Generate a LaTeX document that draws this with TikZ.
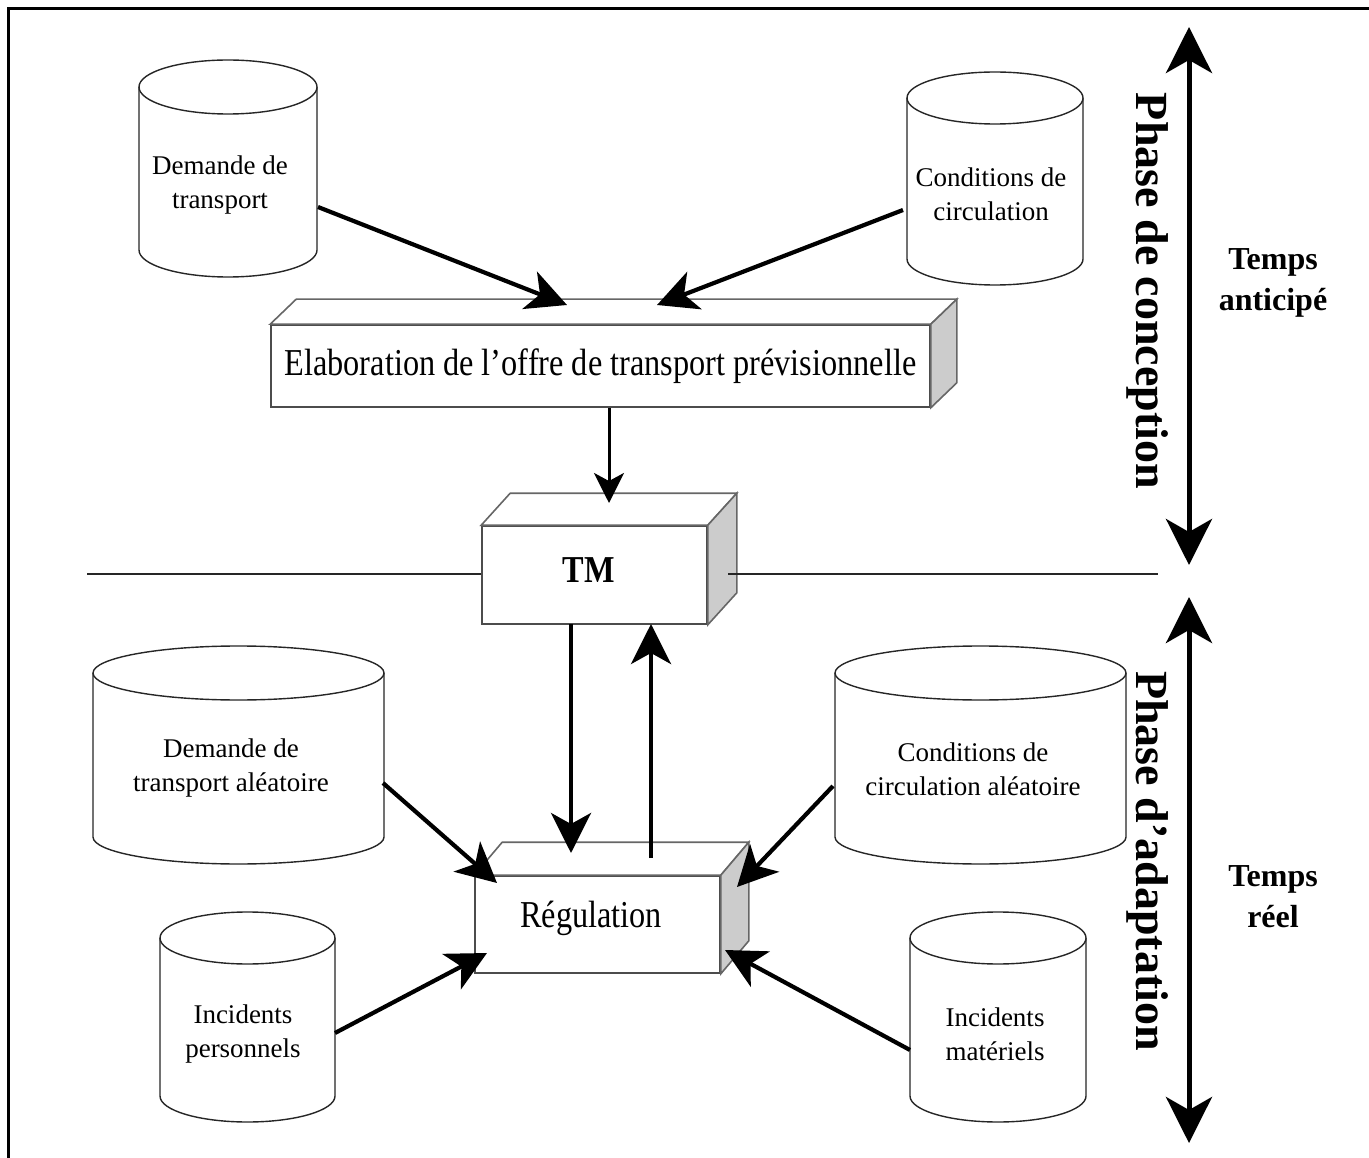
\documentclass[tikz,border=0pt]{standalone}
\usepackage{fontspec}
\setmainfont{Liberation Serif}
\newfontfamily\boxfont[FakeStretch=0.85]{Liberation Serif}
\usetikzlibrary{arrows.meta}
\newcommand\drawcyl[5]{%
  \fill[white] (#1-#4,#2) -- (#1-#4,#3) arc[start angle=180,end angle=360,x radius=#4pt,y radius=#5pt] -- (#1+#4,#2) -- cycle;
  \draw[cylline] (#1-#4,#2) -- (#1-#4,#3) arc[start angle=180,end angle=360,x radius=#4pt,y radius=#5pt] -- (#1+#4,#2);
  \draw[cylline, fill=white] (#1,#2) ellipse[x radius=#4pt, y radius=#5pt];
}
\newcommand\deepbox[3]{%
  \draw[boxedge, fill=white] (#1.north west) -- ++(#2,#3) -- ([shift={(#2,#3)}]#1.north east) -- (#1.north east) -- cycle;
  \draw[sideface] (#1.north east) -- ++(#2,#3) -- ([shift={(#2,#3)}]#1.south east) -- (#1.south east) -- cycle;
}
\begin{document}
\begin{tikzpicture}[x=1pt,y=-1pt,
  cylline/.style={line width=1.4pt, draw=black!85},
  cyltext/.style={font=\fontsize{27}{34}\selectfont, align=center, inner sep=0pt},
  front/.style={draw=black!70, line width=1.6pt, fill=white, inner sep=0pt, font=\boxfont\fontsize{38}{44}\selectfont},
  boxedge/.style={draw=black!60, line width=1.6pt},
  sideface/.style={fill=black!20, draw=black!60, line width=1.6pt},
  thinline/.style={line width=1.5pt, draw=black!85},
  bigarrow/.style={line width=4.2pt, -{Stealth[length=40pt,width=40pt,inset=11pt]}},
  midarrow/.style={line width=3pt, -{Stealth[length=30pt,width=30pt,inset=8pt]}},
  timearrow/.style={line width=5pt, {Stealth[length=46pt,width=46pt,inset=13pt]}-{Stealth[length=46pt,width=46pt,inset=13pt]}},
  phasetext/.style={font=\bfseries\fontsize{46}{50}\selectfont, rotate=-90, inner sep=0pt},
  timetext/.style={font=\bfseries\fontsize{32}{41}\selectfont, align=center, inner sep=0pt}
]
\useasboundingbox (0,0) rectangle (1369,1158);
% frame
\draw[line width=3pt] (8,1158) -- (8,9) -- (1369,9);

% cylinders
\drawcyl{228}{87}{250}{89}{27}
\node[cyltext] (dt) at (220,185) {Demande de\\transport};
\drawcyl{995}{98}{259}{88}{26}
\node[cyltext] (cc) at (991,194) {Conditions de\\circulation};
\drawcyl{238.5}{673}{837}{145.5}{27}
\node[cyltext] (dta) at (231,768) {Demande de\\transport aléatoire};
\drawcyl{980.5}{673}{837}{145.5}{27}
\node[cyltext] (cca) at (973,769) {Conditions de\\circulation aléatoire};
\drawcyl{247.5}{938}{1096}{87.5}{26}
\node[cyltext] (ip) at (243,1034) {Incidents\\personnels};
\drawcyl{998}{938}{1096}{88}{26}
\node[cyltext] (im) at (995,1034) {Incidents\\matériels};

% boxes
\node[front, minimum width=659pt, minimum height=82pt] (elab) at (600.5,366) {Elaboration de l’offre de transport prévisionnelle};
\deepbox{elab}{26}{-25}

\coordinate (hl1) at (87,574);
\coordinate (hl2) at (728,574);
\coordinate (hl3) at (1158,574);

\node[front, minimum width=225pt, minimum height=98pt] (tm) at (594.5,575) {};
\deepbox{tm}{29}{-32}
\node[font=\boxfont\bfseries\fontsize{38}{44}\selectfont, inner sep=0pt] (tmt) at (589,570) {TM};
\draw[thinline] (hl1) -- (hl1 -| tm.west);
\draw[thinline] (hl2) -- (hl3);

\node[front, minimum width=245pt, minimum height=97pt] (reg) at (597.5,924.5) {};
\deepbox{reg}{28}{-33}
\node[font=\boxfont\fontsize{38}{44}\selectfont, inner sep=0pt] (regt) at (591,918) {Régulation};

% connector end points
\coordinate (dt-out) at (318,207);
\coordinate (elab-in1) at (567,305);
\coordinate (cc-out) at (903,210);
\coordinate (elab-in2) at (657,305);
\coordinate (elab-out) at (609,408);
\coordinate (tm-in) at (609,503);
\coordinate (tm-out) at (571,624);
\coordinate (reg-in) at (571,853);
\coordinate (reg-out) at (651,858);
\coordinate (tm-back) at (651,624);
\coordinate (dta-out) at (383,783);
\coordinate (reg-in1) at (497,883);
\coordinate (ip-out) at (335,1033);
\coordinate (reg-in2) at (487,953);
\coordinate (cca-out) at (833,786);
\coordinate (reg-in3) at (737,887);
\coordinate (im-out) at (910,1050);
\coordinate (reg-in4) at (725,950);

\draw[bigarrow] (dt-out) -- (elab-in1);
\draw[bigarrow] (cc-out) -- (elab-in2);
\draw[midarrow] (elab-out) -- (tm-in);
\draw[bigarrow] (tm-out) -- (reg-in);
\draw[bigarrow] (reg-out) -- (tm-back);
\draw[bigarrow] (dta-out) -- (reg-in1);
\draw[bigarrow] (ip-out) -- (reg-in2);
\draw[bigarrow] (cca-out) -- (reg-in3);
\draw[bigarrow] (im-out) -- (reg-in4);

% time axis
\coordinate (va1) at (1189,27);
\coordinate (va2) at (1189,565);
\coordinate (vb1) at (1189,597);
\coordinate (vb2) at (1189,1143);
\draw[timearrow] (va1) -- (va2);
\draw[timearrow] (vb1) -- (vb2);
\node[phasetext] (pc) at (1148,291) {Phase de conception};
\node[phasetext] (pa) at (1148,861) {Phase d’adaptation};
\node[timetext] (ta) at (1273,283) {Temps\\anticipé};
\node[timetext] (tr) at (1273,897) {Temps\\réel};
\end{tikzpicture}
\end{document}
